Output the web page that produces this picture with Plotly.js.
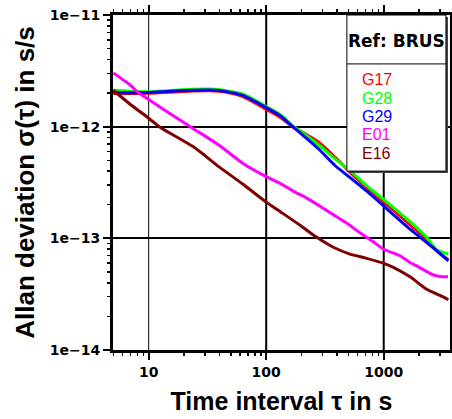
<!DOCTYPE html>
<html>
<head>
<meta charset="utf-8">
<script src="https://cdn.plot.ly/plotly-3.0.1.min.js"></script>
<style>html,body{margin:0;padding:0;background:#fff;}#chart{width:452px;height:419px;}</style>
</head>
<body>
<div id="chart"></div>
<script>
// Data (tau in s, Allan deviation in s/s)
const seriesNames = ["G17", "G28", "G29", "E01", "E16"];
const seriesColors = ["#ff0000", "#00ff00", "#0000ff", "#ff00ff", "#7f0000"];
const refStation = "Ref: BRUS";

const tauG = [5, 7, 10, 15, 24, 33, 46, 64, 100, 132, 170, 214, 278, 385, 534, 739, 1026, 1674, 2323, 2825, 3550];
const adevG17 = [1.98e-12, 1.98e-12, 1.99e-12, 2.03e-12, 2.09e-12, 2.10e-12, 2.03e-12, 1.85e-12, 1.43e-12, 1.21e-12, 9.9e-13, 8.65e-13, 7.28e-13, 5.33e-13, 3.78e-13, 2.77e-13, 2.07e-13, 1.32e-13, 9.86e-14, 7.74e-14, 6.43e-14];
const adevG28 = [2.12e-12, 2.08e-12, 2.05e-12, 2.10e-12, 2.16e-12, 2.17e-12, 2.10e-12, 1.95e-12, 1.51e-12, 1.28e-12, 1.01e-12, 8.53e-13, 6.89e-13, 5.16e-13, 3.91e-13, 2.87e-13, 2.18e-13, 1.41e-13, 1.02e-13, 7.9e-14, 7.23e-14];
const adevG29 = [2.02e-12, 2.01e-12, 2.02e-12, 2.08e-12, 2.12e-12, 2.13e-12, 2.06e-12, 1.90e-12, 1.48e-12, 1.25e-12, 9.9e-13, 8.07e-13, 6.34e-13, 4.49e-13, 3.41e-13, 2.58e-13, 1.90e-13, 1.21e-13, 9.18e-14, 7.74e-14, 6.29e-14];

const tauE01 = [5, 7, 8, 10, 15, 24, 40, 64, 100, 132, 170, 221, 287, 372, 484, 628, 815, 1000, 1374, 1674, 1906, 2630, 3013, 3524];
const adevE01 = [3.03e-12, 2.35e-12, 2.05e-12, 1.75e-12, 1.32e-12, 9.6e-13, 6.79e-13, 4.66e-13, 3.57e-13, 3.1e-13, 2.65e-13, 2.29e-13, 1.94e-13, 1.63e-13, 1.37e-13, 1.12e-13, 9.31e-14, 7.98e-14, 6.98e-14, 6.07e-14, 5.67e-14, 4.71e-14, 4.56e-14, 4.54e-14];

const tauE16 = [5, 7, 10, 12.5, 24, 40, 64, 100, 132, 194, 269, 372, 516, 716, 1000, 1208, 1674, 2323, 3013, 3550];
const adevE16 = [2.12e-12, 1.58e-12, 1.19e-12, 9.9e-13, 6.6e-13, 4.34e-13, 3.03e-13, 2.11e-13, 1.73e-13, 1.31e-13, 1.02e-13, 8.32e-14, 7.23e-14, 6.62e-14, 5.97e-14, 5.5e-14, 4.52e-14, 3.5e-14, 3.08e-14, 2.82e-14];

const xGridVals = [10, 100, 1000];

const xs = [tauG, tauG, tauG, tauE01, tauE16];
const ys = [adevG17, adevG28, adevG29, adevE01, adevE16];

const traces = seriesNames.map((n, i) => ({
  type: "scatter", mode: "lines", name: n, x: xs[i], y: ys[i],
  line: {color: seriesColors[i], width: 3, shape: "spline", smoothing: 0.7}, showlegend: false
}));

const tickFont = {family: "DejaVu Sans", size: 14, weight: "bold", color: "#000"};
const minorTicks = {ticks: "outside", ticklen: 3, tickwidth: 1.5, tickcolor: "#000", dtick: "D1", showgrid: false};

// legend box built from shapes + annotations
const boxX0 = 0.694, boxX1 = 0.988, boxY0 = 0.534, boxY1 = 1.0, sepY = 0.854;
const shapes = [
  {type: "rect", xref: "paper", yref: "paper", x0: boxX0 + 0.006, x1: boxX1 + 0.006, y0: boxY0 - 0.006, y1: boxY1 - 0.006, fillcolor: "#444", line: {width: 0}, layer: "above"},
  {type: "rect", xref: "paper", yref: "paper", x0: boxX0, x1: boxX1, y0: boxY0, y1: boxY1, fillcolor: "#fff", line: {color: "#000", width: 1}, layer: "above"},
  {type: "line", xref: "paper", yref: "paper", x0: boxX0, x1: boxX1, y0: sepY, y1: sepY, line: {color: "#000", width: 1}, layer: "above"}
];
// vertical grid lines at decades
const gridWidths = [1, 2, 2];
xGridVals.forEach((v, i) => shapes.push({type: "line", xref: "x", yref: "paper", x0: v, x1: v, y0: 0, y1: 1, line: {color: "#000", width: gridWidths[i]}, layer: "below"}));

const annotations = [
  {xref: "paper", yref: "paper", x: (boxX0 + boxX1) / 2, y: 0.922, text: refStation, showarrow: false, xanchor: "center", yanchor: "middle",
   font: {family: "DejaVu Sans", size: 17, weight: "bold", color: "#000"}}
];
const entryY = [0.808, 0.752, 0.697, 0.642, 0.586];
seriesNames.forEach((n, i) => annotations.push({
  xref: "paper", yref: "paper", x: 0.733, y: entryY[i], text: n, showarrow: false, xanchor: "left", yanchor: "middle",
  font: {family: "Liberation Sans, Arial, sans-serif", size: 16, color: seriesColors[i]}
}));

const layout = {
  width: 452, height: 419,
  margin: {l: 113, r: 2, t: 15, b: 69, pad: 0},
  paper_bgcolor: "#fff", plot_bgcolor: "#fff",
  showlegend: false,
  xaxis: {
    type: "log", range: [Math.log10(4.97), Math.log10(3664)],
    tickmode: "linear", tick0: 0, dtick: 1, exponentformat: "none",
    ticks: "outside", ticklen: 7, tickwidth: 2, tickcolor: "#000",
    minor: minorTicks,
    showgrid: false, zeroline: false,
    showline: true, linewidth: 3, linecolor: "#000", mirror: "allticks",
    tickfont: tickFont,
    title: {text: "Time interval \u03c4 in s", standoff: 14, font: {family: "Liberation Sans, Arial, sans-serif", size: 25, weight: "bold", color: "#000"}}
  },
  yaxis: {
    type: "log", range: [-14, -11],
    tickmode: "linear", tick0: 0, dtick: 1, exponentformat: "e",
    ticks: "outside", ticklen: 7, tickwidth: 2, tickcolor: "#000",
    minor: minorTicks,
    showgrid: true, gridcolor: "#000", gridwidth: 2, zeroline: false,
    showline: true, linewidth: 3, linecolor: "#000", mirror: "allticks",
    tickfont: tickFont,
    title: {text: "Allan deviation \u03c3(\u03c4) in s/s", standoff: 8, font: {family: "Liberation Sans, Arial, sans-serif", size: 26, weight: "bold", color: "#000"}}
  },
  shapes: shapes,
  annotations: annotations
};

Plotly.newPlot("chart", traces, layout, {staticPlot: true, displayModeBar: false});
</script>
</body>
</html>
